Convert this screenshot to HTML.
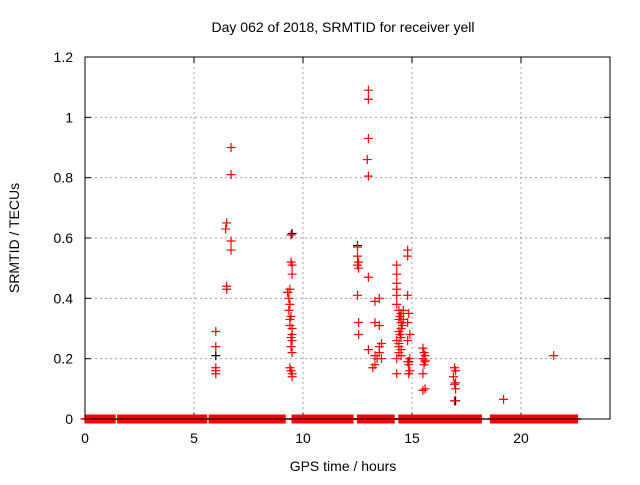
<!DOCTYPE html>
<html><head><meta charset="utf-8"><style>
body{margin:0;background:#fff;}
svg text{font-family:"Liberation Sans",sans-serif;font-size:14px;fill:#000;}
</style></head><body>
<svg id="chart" width="640" height="480" xmlns="http://www.w3.org/2000/svg">
<text x="343" y="32" text-anchor="middle">Day 062 of 2018, SRMTID for receiver yell</text>
<text x="343" y="471" text-anchor="middle">GPS time / hours</text>
<text transform="translate(19,238) rotate(-90)" text-anchor="middle">SRMTID / TECUs</text>
<g id="grid"></g>
<g id="axes"></g>
<g id="marks"></g>
<rect x="85" y="57" width="525" height="362" fill="none" stroke="#000" stroke-width="1"/>
</svg>
<script>
const xTicks=[0,5,10,15,20];
const yTicks=[0,0.2,0.4,0.6,0.8,1,1.2];
const yTickLabels=["0","0.2","0.4","0.6","0.8","1","1.2"];
const hours=[6.0,6.0,6.0,6.0,6.0,6.45,6.5,6.5,6.5,6.7,6.7,6.7,6.7,
9.3,9.35,9.4,9.4,9.45,9.5,9.5,9.3,9.35,9.4,9.45,9.5,9.4,9.5,9.45,9.5,9.45,9.5,9.4,9.45,9.5,9.5,9.45,
12.5,12.5,12.55,12.5,12.55,12.5,12.55,12.55,13.0,13.0,13.0,12.95,13.0,13.0,13.0,13.3,13.3,13.5,13.3,13.5,13.4,13.5,13.3,13.5,13.2,13.6,13.6,
14.3,14.3,14.3,14.3,14.3,14.3,14.3,14.3,14.3,14.4,14.4,14.45,14.5,14.5,14.4,14.5,14.6,14.4,14.5,14.4,14.55,14.5,14.45,14.6,14.4,14.5,
14.8,14.8,14.8,14.85,14.8,14.9,14.8,14.9,14.85,14.9,14.8,14.85,
15.5,15.55,15.6,15.5,15.6,15.55,15.5,15.6,15.5,15.6,
16.95,17.0,16.9,17.0,16.95,17.0,16.95,19.2,21.5];
const values=[0.29,0.24,0.17,0.16,0.15,0.63,0.65,0.43,0.44,0.90,0.81,0.59,0.56,
0.42,0.36,0.33,0.43,0.52,0.51,0.48,0.42,0.40,0.38,0.34,0.30,0.31,0.28,0.27,0.26,0.24,0.22,0.17,0.16,0.15,0.14,0.61,
0.57,0.54,0.52,0.51,0.50,0.41,0.32,0.28,1.09,1.06,0.93,0.86,0.805,0.47,0.23,0.39,0.32,0.31,0.21,0.40,0.20,0.22,0.18,0.24,0.17,0.25,0.20,
0.51,0.48,0.45,0.43,0.41,0.38,0.26,0.20,0.15,0.36,0.33,0.34,0.32,0.30,0.29,0.27,0.33,0.24,0.35,0.25,0.31,0.23,0.28,0.36,0.22,0.21,
0.56,0.54,0.41,0.35,0.32,0.28,0.26,0.20,0.18,0.16,0.19,0.15,
0.235,0.22,0.21,0.20,0.195,0.18,0.15,0.10,0.095,0.19,
0.17,0.16,0.14,0.12,0.115,0.10,0.06,0.065,0.21];
const blackHours=[6.0,9.5,12.5,14.85,17.0];
const blackValues=[0.21,0.615,0.575,0.19,0.06];
const zeroSegments=[[0,1.4],[1.5,5.6],[5.7,9.2],[9.5,12.3],[12.5,14.2],[14.4,18.2],[18.6,22.6]];

const X=h=>85+h*21.8, Y=v=>419-v*301.67;
const NS="http://www.w3.org/2000/svg";
function mk(t,a,p){const e=document.createElementNS(NS,t);for(const k in a)e.setAttribute(k,a[k]);p.appendChild(e);return e;}
const grid=document.getElementById('grid'),axes=document.getElementById('axes'),marks=document.getElementById('marks');
xTicks.forEach(t=>{const x=X(t);
 if(t>0){const g=mk('line',{x1:x,x2:x,y1:57,y2:419,stroke:'#a0a0a0','stroke-dasharray':'2,3'},grid);
 
 }
 mk('line',{x1:x,x2:x,y1:419,y2:413,stroke:'#000'},axes);mk('line',{x1:x,x2:x,y1:57,y2:63,stroke:'#000'},axes);
 const l=mk('text',{x:x,y:443,'text-anchor':'middle'},axes);l.textContent=t;
 
 });
yTicks.forEach((t,i)=>{const y=Y(t);
 if(t>0&&t<1.2){const g=mk('line',{x1:85,x2:610,y1:y,y2:y,stroke:'#a0a0a0','stroke-dasharray':'2,3'},grid);
 
 }
 mk('line',{x1:85,x2:91,y1:y,y2:y,stroke:'#000'},axes);mk('line',{x1:610,x2:604,y1:y,y2:y,stroke:'#000'},axes);
 const l=mk('text',{x:73,y:y+5,'text-anchor':'end'},axes);l.textContent=yTickLabels[i];
 
 });
function plus(h,v,c){const x=X(h),y=Y(v);
 const p=mk('path',{d:`M${x-4.5},${y}H${x+4.5}M${x},${y-4.5}V${y+4.5}`,stroke:c,'stroke-width':1.2,fill:'none'},marks);
 
 }
blackHours.forEach((h,i)=>plus(h,blackValues[i],'#000'));
zeroSegments.forEach(s=>{for(let h=s[0];h<=s[1]+1e-9;h+=0.03)plus(h,0,'#ff0000');});
hours.forEach((h,i)=>plus(h,values[i],'#ff0000'));
</script>
</body></html>
